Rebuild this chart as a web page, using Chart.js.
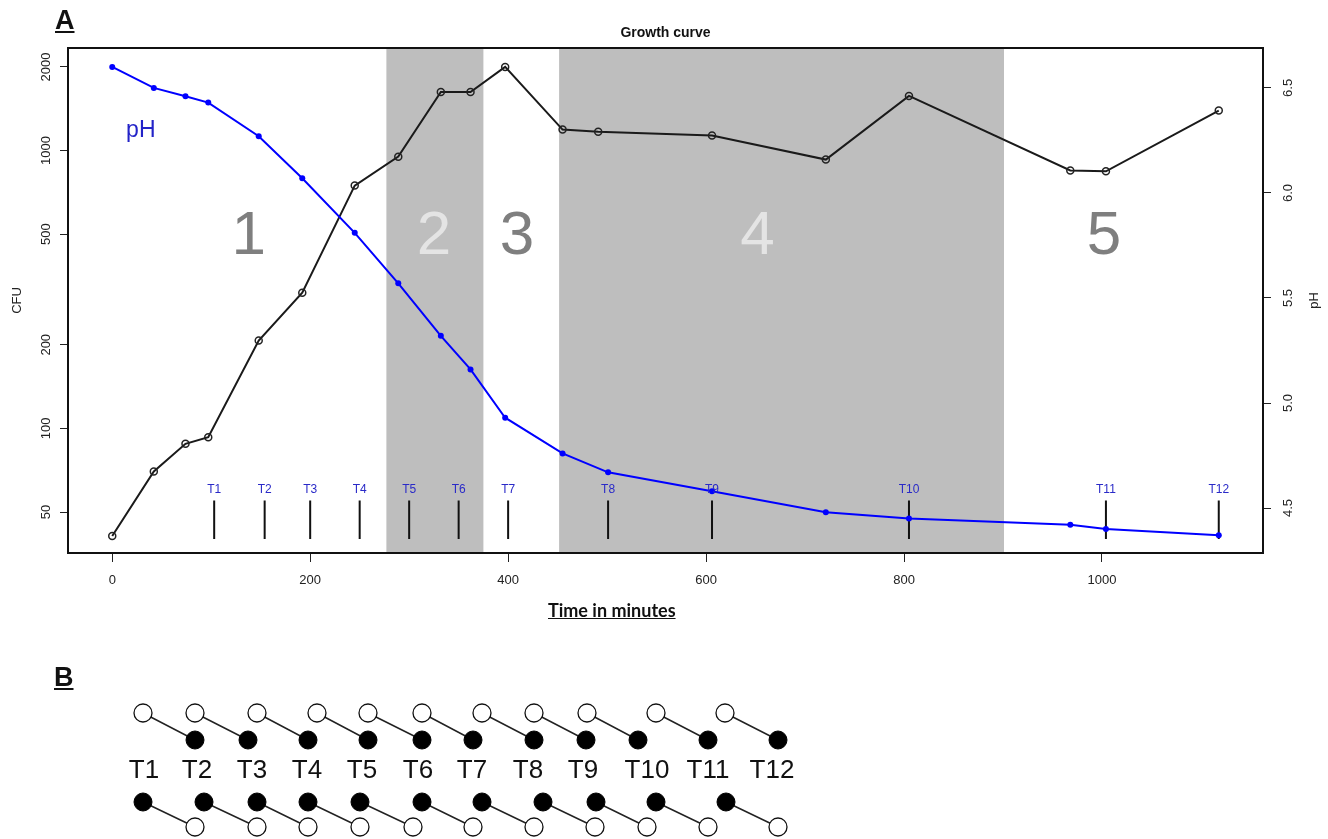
<!DOCTYPE html>
<html><head><meta charset="utf-8">
<script src="https://cdn.jsdelivr.net/npm/chart.js@4.4.0/dist/chart.umd.min.js"></script>
<style>
html,body{margin:0;padding:0;background:#fff;overflow:hidden;}
body{width:1328px;height:839px;position:relative;font-family:"Liberation Sans",Arial,sans-serif;}
#ca{position:absolute;left:0;top:0;}
#cb{position:absolute;left:0;top:650px;}
.lab{position:absolute;font-weight:bold;text-decoration:underline;color:#111;line-height:1;white-space:nowrap;}
</style></head><body>
<canvas id="ca" width="1328" height="650"></canvas>
<canvas id="cb" width="1328" height="189"></canvas>
<div class="lab" style="left:55px;top:7px;font-size:27px;">A</div>
<div class="lab" style="left:54px;top:664px;font-size:27px;">B</div>
<div class="lab" style="left:548px;top:601px;font-size:18px;font-family:Lato,'Liberation Sans',sans-serif;">Time in minutes</div>
<script>
// ---------- Panel A data ----------
const cfuTime   = [0, 42, 74, 97, 148, 192, 245, 289, 332, 362, 397, 455, 491, 606, 721, 805, 968, 1004, 1118];
const cfuValues = [41, 70, 88, 93, 207, 308, 748, 951, 1625, 1625, 2000, 1190, 1170, 1132, 928, 1573, 848, 842, 1393];
const phTime    = [0, 42, 74, 97, 148, 192, 245, 289, 332, 362, 397, 455, 501, 606, 721, 805, 968, 1004, 1118];
const phValues  = [6.60, 6.50, 6.46, 6.43, 6.27, 6.07, 5.81, 5.57, 5.32, 5.16, 4.93, 4.76, 4.67, 4.58, 4.48, 4.45, 4.42, 4.40, 4.37];
const sampleLabels = ['T1','T2','T3','T4','T5','T6','T7','T8','T9','T10','T11','T12'];
const sampleTime   = [103, 154, 200, 250, 300, 350, 400, 501, 606, 805, 1004, 1118];
const sampleLowCFU = 40, sampleHighCFU = 55, sampleLabelCFU = 60;
const shadedStart = [277, 451.5];
const shadedEnd   = [375, 901];
const phaseLabels = ['1','2','3','4','5'];
const phaseLabelTime = [138, 325, 409, 652, 1002];
const phaseShaded = [false, true, false, true, false];
const phaseLabelCFU = 490;
const xTicks   = [0, 200, 400, 600, 800, 1000];
const cfuTicks = [50, 100, 200, 500, 1000, 2000];
const phTicks  = [4.5, 5.0, 5.5, 6.0, 6.5];
const xRange = [-44.7, 1162.7], cfuRange = [35.6, 2340], phRange = [4.286, 6.69];

const FONT = '"Liberation Sans", Arial, sans-serif';

const segData = [];
sampleTime.forEach(t => { segData.push({x:t,y:sampleLowCFU},{x:t,y:sampleHighCFU},{x:t,y:null}); });

const plugA = {
  id:'plugA',
  beforeDatasetsDraw(chart){
    const {ctx, chartArea:a, scales:{x,y}} = chart;
    ctx.save();
    ctx.fillStyle = 'rgb(190,190,190)';
    shadedStart.forEach((s,i)=>{
      const x0 = x.getPixelForValue(s), x1 = x.getPixelForValue(shadedEnd[i]);
      ctx.fillRect(x0, a.top, x1-x0, a.bottom-a.top);
    });
    ctx.font = '62px ' + FONT;
    ctx.textAlign = 'center'; ctx.textBaseline = 'middle';
    phaseLabels.forEach((l,i)=>{
      ctx.fillStyle = phaseShaded[i] ? '#e4e4e4' : '#7f7f7f';
      ctx.fillText(l, x.getPixelForValue(phaseLabelTime[i]), y.getPixelForValue(phaseLabelCFU));
    });
    ctx.restore();
  },
  afterDraw(chart){
    const {ctx, chartArea:a, scales:{x,y,y1}} = chart;
    ctx.save();
    ctx.strokeStyle = '#111'; ctx.lineWidth = 2;
    ctx.strokeRect(a.left, a.top, a.right-a.left, a.bottom-a.top);
    ctx.fillStyle = '#222'; ctx.font = '13px ' + FONT;
    ctx.textAlign = 'center'; ctx.textBaseline = 'middle';
    xTicks.forEach(v => ctx.fillText(String(v), x.getPixelForValue(v), 580));
    cfuTicks.forEach(v => {
      ctx.save(); ctx.translate(46, y.getPixelForValue(v)); ctx.rotate(-Math.PI/2);
      ctx.fillText(String(v), 0, 0); ctx.restore();
    });
    phTicks.forEach(v => {
      ctx.save(); ctx.translate(1288, y1.getPixelForValue(v)); ctx.rotate(-Math.PI/2);
      ctx.fillText(v.toFixed(1), 0, 0); ctx.restore();
    });
    ctx.save(); ctx.translate(17, (a.top+a.bottom)/2); ctx.rotate(-Math.PI/2); ctx.fillText('CFU',0,0); ctx.restore();
    ctx.save(); ctx.translate(1314, (a.top+a.bottom)/2); ctx.rotate(-Math.PI/2); ctx.fillText('pH',0,0); ctx.restore();
    ctx.fillStyle = '#111'; ctx.font = 'bold 14px ' + FONT;
    ctx.fillText('Growth curve', (a.left+a.right)/2, 33);
    ctx.fillStyle = '#2a2ac8'; ctx.font = '12px ' + FONT;
    sampleLabels.forEach((l,i)=> ctx.fillText(l, x.getPixelForValue(sampleTime[i]), y.getPixelForValue(sampleLabelCFU)));
    ctx.fillStyle = '#2323c8'; ctx.font = '23px ' + FONT; ctx.textAlign = 'left'; ctx.textBaseline = 'alphabetic';
    ctx.fillText('pH', x.getPixelForValue(14), y.getPixelForValue(1115));
    ctx.restore();
  }
};

new Chart(document.getElementById('ca'), {
  type:'line',
  data:{ datasets:[
    { label:'pH', data: phTime.map((t,i)=>({x:t,y:phValues[i]})), yAxisID:'y1',
      borderColor:'#0000ff', borderWidth:2, pointRadius:3, pointBackgroundColor:'#0000ff', pointBorderWidth:0, tension:0 },
    { label:'CFU', data: cfuTime.map((t,i)=>({x:t,y:cfuValues[i]})), yAxisID:'y',
      borderColor:'#1a1a1a', borderWidth:2, pointRadius:3.5, pointBackgroundColor:'rgba(0,0,0,0)', pointBorderColor:'#222', pointBorderWidth:1.5, tension:0 },
    { label:'samples', data: segData, yAxisID:'y', borderColor:'#111', borderWidth:2, pointRadius:0, spanGaps:false }
  ]},
  options:{
    responsive:false, animation:false, events:[],
    layout:{padding:{top:48,left:0,right:0,bottom:0}, autoPadding:false},
    plugins:{legend:{display:false}, tooltip:{enabled:false}, title:{display:false}},
    scales:{
      x:{ type:'linear', min:xRange[0], max:xRange[1],
          afterBuildTicks: s => { s.ticks = xTicks.map(v=>({value:v})); },
          afterFit: s => { s.height = 97; },
          grid:{drawOnChartArea:false, drawTicks:true, tickLength:9, color:'#222', lineWidth:1},
          border:{display:true, color:'#111', width:2},
          ticks:{display:false} },
      y:{ type:'logarithmic', position:'left', min:cfuRange[0], max:cfuRange[1],
          afterBuildTicks: s => { s.ticks = cfuTicks.map(v=>({value:v})); },
          afterFit: s => { s.width = 68; },
          grid:{drawOnChartArea:false, drawTicks:true, tickLength:8, color:'#222', lineWidth:1},
          border:{display:true, color:'#111', width:2},
          ticks:{display:false} },
      y1:{ type:'linear', position:'right', min:phRange[0], max:phRange[1],
          afterBuildTicks: s => { s.ticks = phTicks.map(v=>({value:v})); },
          afterFit: s => { s.width = 65; },
          grid:{drawOnChartArea:false, drawTicks:true, tickLength:8, color:'#222', lineWidth:1},
          border:{display:true, color:'#111', width:2},
          ticks:{display:false} }
    }
  },
  plugins:[plugA]
});

// ---------- Panel B data (sampling scheme diagram) ----------
const bLabels = ['T1','T2','T3','T4','T5','T6','T7','T8','T9','T10','T11','T12'];
const bLabelX = [144, 197, 252, 307, 362, 418, 472, 528, 583, 647, 708, 772];
const bRow1OpenX   = [143, 195, 257, 317, 368, 422, 482, 534, 587, 656, 725];
const bRow2FilledX = [195, 248, 308, 368, 422, 473, 534, 586, 638, 708, 778];
const bRow3FilledX = [143, 204, 257, 308, 360, 422, 482, 543, 596, 656, 726];
const bRow4OpenX   = [195, 257, 308, 360, 413, 473, 534, 595, 647, 708, 778];
const bRowLevel = [63, 90, 121, 152, 177];

const openPts = bRow1OpenX.map(v=>({x:v,y:bRowLevel[0]})).concat(bRow4OpenX.map(v=>({x:v,y:bRowLevel[4]})));
const filledPts = bRow2FilledX.map(v=>({x:v,y:bRowLevel[1]})).concat(bRow3FilledX.map(v=>({x:v,y:bRowLevel[3]})));
const links = [];
bRow1OpenX.forEach((v,i)=>{ links.push({x:v,y:bRowLevel[0]},{x:bRow2FilledX[i],y:bRowLevel[1]},{x:v,y:null}); });
bRow3FilledX.forEach((v,i)=>{ links.push({x:v,y:bRowLevel[3]},{x:bRow4OpenX[i],y:bRowLevel[4]},{x:v,y:null}); });

const plugB = {
  id:'plugB',
  afterDraw(chart){
    const {ctx, scales:{x,y}} = chart;
    ctx.save();
    ctx.fillStyle = '#111'; ctx.font = '26px ' + FONT;
    ctx.textAlign = 'center'; ctx.textBaseline = 'middle';
    bLabels.forEach((l,i)=> ctx.fillText(l, x.getPixelForValue(bLabelX[i]), y.getPixelForValue(bRowLevel[2])));
    ctx.restore();
  }
};

new Chart(document.getElementById('cb'), {
  type:'scatter',
  data:{ datasets:[
    { data: openPts, pointRadius:9, pointBackgroundColor:'#fff', pointBorderColor:'#111', pointBorderWidth:1.3, showLine:false },
    { data: filledPts, pointRadius:9, pointBackgroundColor:'#000', pointBorderColor:'#000', pointBorderWidth:1, showLine:false },
    { data: links, showLine:true, pointRadius:0, borderColor:'#222', borderWidth:1.5, spanGaps:false }
  ]},
  options:{
    responsive:false, animation:false, events:[],
    layout:{padding:0, autoPadding:false},
    plugins:{legend:{display:false}, tooltip:{enabled:false}},
    scales:{
      x:{type:'linear', min:0, max:1328, display:false},
      y:{type:'linear', min:0, max:189, reverse:true, display:false}
    }
  },
  plugins:[plugB]
});
</script>
</body></html>
